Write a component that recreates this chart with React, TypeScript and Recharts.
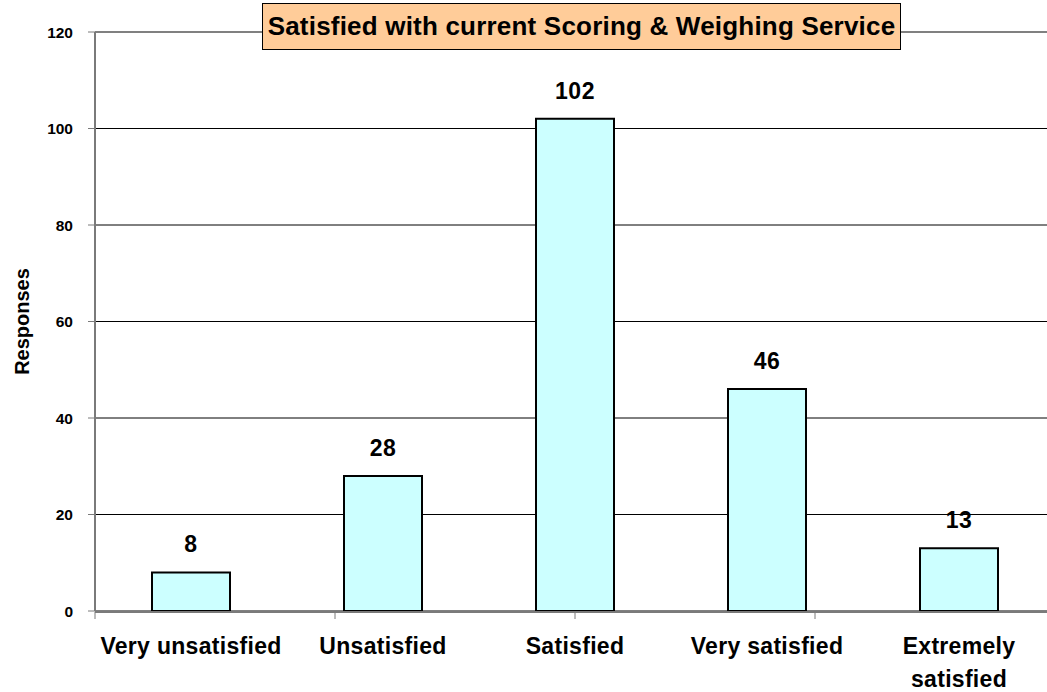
import React from "react";
import {
  BarChart,
  Bar,
  XAxis,
  YAxis,
  CartesianGrid,
  LabelList,
  ReferenceLine,
} from "recharts";

const categories = [
  "Very unsatisfied",
  "Unsatisfied",
  "Satisfied",
  "Very satisfied",
  "Extremely satisfied",
];
const responses = [8, 28, 102, 46, 13];
const categoryLines = [
  ["Very unsatisfied"],
  ["Unsatisfied"],
  ["Satisfied"],
  ["Very satisfied"],
  ["Extremely", "satisfied"],
];
const yTicks = [0, 20, 40, 60, 80, 100, 120];
const edgeTicks = [0, 1, 2, 3, 4, 5];
const title = "Satisfied with current Scoring & Weighing Service";
const yLabel = "Responses";

const data = categories.map((c, i) => ({ name: c, value: responses[i] }));

const FONT = '"Liberation Sans", Arial, sans-serif';

const CategoryTick = (props: any) => {
  const { x, y, payload } = props;
  const lines = categoryLines[payload.index] || [payload.value];
  return (
    <g>
      {lines.map((ln: string, i: number) => (
        <text
          key={i}
          x={x}
          y={y + 43 + i * 33}
          textAnchor="middle"
          fontFamily={FONT}
          fontWeight="bold"
          fontSize={23}
          letterSpacing={0.3}
          fill="#000"
        >
          {ln}
        </text>
      ))}
    </g>
  );
};

const YTick = (props: any) => {
  const { x, y, payload } = props;
  return (
    <text
      x={x}
      y={y}
      dy={5.5}
      textAnchor="end"
      fontFamily={FONT}
      fontWeight="bold"
      fontSize={15.5}
      fill="#000"
    >
      {payload.value}
    </text>
  );
};

const YLabel = (props: any) => {
  const vb = props.viewBox || {};
  const cy = (vb.y || 0) + (vb.height || 0) / 2;
  const bx = 29;
  return (
    <text
      x={bx}
      y={cy}
      transform={`rotate(-90, ${bx}, ${cy})`}
      textAnchor="middle"
      fontFamily={FONT}
      fontWeight="bold"
      fontSize={20}
      fill="#000"
    >
      {yLabel}
    </text>
  );
};

export default function App() {
  return (
    <div
      style={{
        position: "absolute",
        left: 0,
        top: 0,
        width: 1047,
        height: 692,
        overflow: "hidden",
        background: "#fff",
      }}
    >
      <BarChart
        width={1060}
        height={692}
        data={data}
        margin={{ top: 32, right: 5, bottom: 79, left: 0 }}
      >
        <CartesianGrid vertical={false} stroke="#000" strokeWidth={1} />
        <ReferenceLine y={120} stroke="#808080" strokeWidth={2} />
        <XAxis
          xAxisId="edges"
          type="number"
          domain={[0, 5]}
          ticks={edgeTicks}
          height={1}
          tickSize={7}
          tickFormatter={() => ""}
          axisLine={{ stroke: "#7a7a7a", strokeWidth: 2 }}
          tickLine={{ stroke: "#7a7a7a", strokeWidth: 1 }}
          allowDataOverflow
        />
        <XAxis
          dataKey="name"
          height={1}
          axisLine={false}
          tickLine={false}
          tickSize={0}
          tickMargin={0}
          interval={0}
          tick={<CategoryTick />}
        />
        <YAxis
          width={95}
          domain={[0, 120]}
          ticks={yTicks}
          tickSize={7}
          tickMargin={15}
          axisLine={{ stroke: "#7a7a7a", strokeWidth: 2 }}
          tickLine={{ stroke: "#7a7a7a", strokeWidth: 1 }}
          tick={<YTick />}
          label={<YLabel />}
        />
        <Bar
          dataKey="value"
          fill="#CCFFFF"
          stroke="#000"
          strokeWidth={2}
          barSize={78}
          isAnimationActive={false}
        >
          <LabelList
            dataKey="value"
            position="top"
            offset={20}
            fill="#000"
            fontFamily={FONT}
            fontWeight="bold"
            fontSize={23}
            letterSpacing={0.5}
          />
        </Bar>
      </BarChart>
      <div
        style={{
          position: "absolute",
          left: 262,
          top: 3,
          width: 637,
          height: 45,
          background: "#FFCC99",
          border: "1px solid #000",
          fontFamily: FONT,
          fontWeight: "bold",
          fontSize: 26,
          lineHeight: "45px",
          textAlign: "center",
          whiteSpace: "nowrap",
          color: "#000",
          letterSpacing: 0.2,
        }}
      >
        {title}
      </div>
    </div>
  );
}
